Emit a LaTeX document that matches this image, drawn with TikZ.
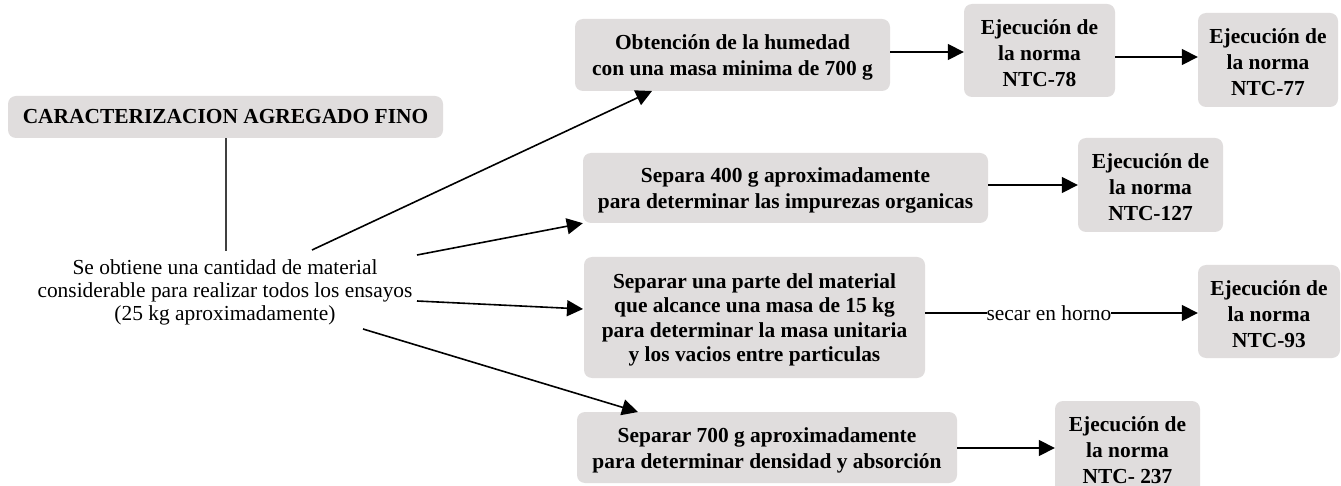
\documentclass[tikz,border=0pt]{standalone}
\usepackage{fontspec}
\setmainfont{Liberation Serif}
\usetikzlibrary{arrows.meta}
\definecolor{boxgray}{RGB}{224,221,221}
\definecolor{linegray}{RGB}{64,64,64}
\newcommand\topstrut{\rule{0pt}{20pt}}
\tikzset{
  box/.style={fill=boxgray, rounded corners=8pt, align=center, inner sep=0pt,
    font=\bfseries\fontsize{21.4}{26}\selectfont},
  tightbox/.style={box, font=\bfseries\fontsize{21.4}{24.5}\selectfont},
  plain/.style={align=center, inner sep=0pt, font=\fontsize{21.4}{23}\selectfont},
  arr/.style={line width=1.6pt, -{Triangle[length=16pt,width=16pt]}},
}
\begin{document}
\begin{tikzpicture}[x=1pt,y=-1pt]
\clip (0,0) rectangle (1341,486);
\fill[white] (0,0) rectangle (1341,486);

\node[box, minimum width=435pt, minimum height=42pt] (A) at (225.5,117) {CARACTERIZACION AGREGADO FINO};
\node[plain] (B) at (225,292) {Se obtiene una cantidad de material\\considerable para realizar todos los ensayos\\(25 kg aproximadamente)};

\node[box, minimum width=315pt, minimum height=72pt] (C) at (732.5,55) {\topstrut Obtención de la humedad\\con una masa minima de 700 g};
\node[box, minimum width=151pt, minimum height=93pt] (D) at (1039.5,50.5) {\topstrut Ejecución de\\la norma\\NTC-78};
\node[box, minimum width=140pt, minimum height=94pt] (E) at (1268,60) {\topstrut Ejecución de\\la norma\\NTC-77};
\node[box, minimum width=405pt, minimum height=70pt] (F) at (785.5,188) {\topstrut Separa 400 g aproximadamente\\para determinar las impurezas organicas};
\node[box, minimum width=145pt, minimum height=94pt] (G) at (1150.5,185) {\topstrut Ejecución de\\la norma\\NTC-127};
\node[tightbox, minimum width=341pt, minimum height=121pt] (H) at (754.5,317.5) {\topstrut Separar una parte del material\\que alcance una masa de 15 kg\\para determinar la masa unitaria\\y los vacios entre particulas};
\node[box, minimum width=142pt, minimum height=93pt] (I) at (1269,311.5) {\topstrut Ejecución de\\la norma\\NTC-93};
\node[box, minimum width=380pt, minimum height=71pt] (J) at (767,447.5) {\topstrut Separar 700 g aproximadamente\\para determinar densidad y absorción};
\node[box, minimum width=145pt, minimum height=94pt] (K) at (1127.5,448) {\topstrut Ejecución de\\la norma\\NTC- 237};

% connector A - B
\coordinate (btop) at (226,251);
\draw[line width=1.6pt, linegray] (A.south -| btop) -- (btop);

% arrows from B
\coordinate (b1) at (312,250);
\coordinate (c1) at (652,91);
\coordinate (b2) at (417,255);
\coordinate (b3) at (417,301);
\coordinate (h1) at (583,309);
\coordinate (b4) at (363,329);
\coordinate (j1) at (638,412);
\draw[arr] (b1) -- (c1);
\draw[arr] (b2) -- (F.south west);
\draw[arr] (b3) -- (h1);
\draw[arr] (b4) -- (j1);

% horizontal arrows
\draw[arr] (C.east |- 0,52) -- (D.west |- 0,52);
\draw[arr] (D.east |- 0,57) -- (E.west |- 0,57);
\draw[arr] (F.east |- G.west) -- (G.west);
\draw[arr] (H.east |- 0,313) -- node[pos=0.454, fill=white, inner sep=0pt, font=\fontsize{21.4}{23}\selectfont] (lab) {secar en horno} (I.west |- 0,313);
\draw[arr] (J.east |- K.west) -- (K.west);
\end{tikzpicture}
\end{document}
